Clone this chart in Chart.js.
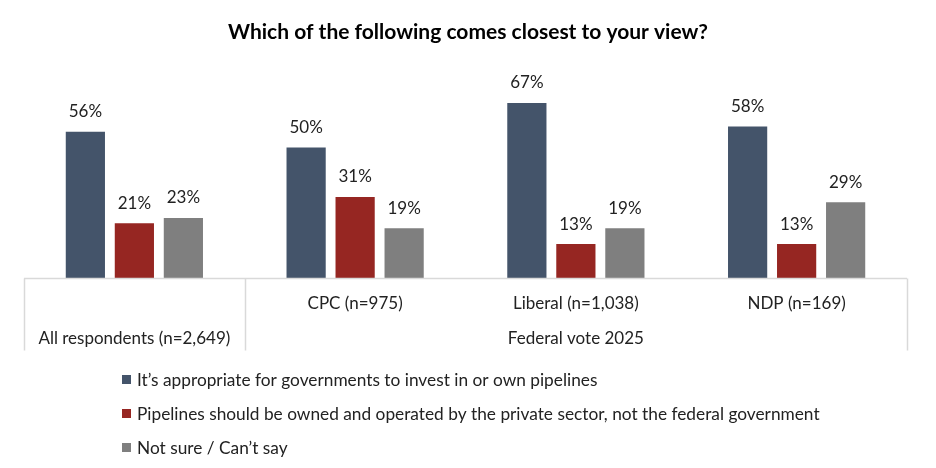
<!DOCTYPE html>
<html lang="en">
<head>
    <meta charset="UTF-8">
    <title>Pipelines view</title>
    <script src="https://cdn.jsdelivr.net/npm/chart.js"></script>
    <style>
        html, body { margin: 0; padding: 0; background: #fff; }
        #wrap { position: relative; width: 936px; height: 468px; }
    </style>
</head>
<body>
    <div id="wrap"><canvas id="pipeChart"></canvas></div>

    <script>
        const title = 'Which of the following comes closest to your view?';
        const categories = ['All respondents (n=2,649)', 'CPC (n=975)', 'Liberal (n=1,038)', 'NDP (n=169)'];
        const groupLabel = 'Federal vote 2025';
        const seriesNames = [
            'It\u2019s appropriate for governments to invest in or own pipelines',
            'Pipelines should be owned and operated by the private sector, not the federal government',
            'Not sure / Can\u2019t say'
        ];
        const governmentOk = [56, 50, 67, 58];
        const privateSector = [21, 31, 13, 13];
        const notSure = [23, 19, 19, 29];
        const colors = ['#44546A', '#962622', '#7F7F7F'];

        const FONT = 'Lato, "Open Sans", sans-serif';
        const lineColor = '#D9D9D9';

        // percentages above bars, axis boxes, title and legend
        const decorations = {
            id: 'decorations',
            afterDatasetsDraw(chart) {
                const { ctx, chartArea, scales } = chart;
                ctx.save();

                // value labels
                ctx.font = '17px ' + FONT;
                ctx.fillStyle = '#222';
                ctx.textAlign = 'center';
                ctx.textBaseline = 'middle';
                chart.data.datasets.forEach((ds, i) => {
                    chart.getDatasetMeta(i).data.forEach((bar, j) => {
                        ctx.fillText(ds.data[j] + '%', bar.x, bar.y - 20);
                    });
                });

                // axis line and separators
                const x = scales.x;
                const base = chartArea.bottom + 0.5;
                const left = chartArea.left;
                const right = chartArea.right;
                const mid01 = (x.getPixelForTick(0) + x.getPixelForTick(1)) / 2;
                ctx.strokeStyle = lineColor;
                ctx.lineWidth = 1.5;
                ctx.beginPath();
                ctx.moveTo(left, base); ctx.lineTo(right, base);
                [left, mid01, right].forEach(px => {
                    ctx.moveTo(Math.round(px) + 0.5, base);
                    ctx.lineTo(Math.round(px) + 0.5, base + 72);
                });
                ctx.stroke();

                // category labels
                ctx.fillStyle = '#222';
                ctx.font = '17px ' + FONT;
                categories.forEach((c, j) => {
                    const y = j === 0 ? base + 60 : base + 25;
                    ctx.fillText(c, x.getPixelForTick(j), y);
                });
                ctx.fillText(groupLabel, (x.getPixelForTick(1) + x.getPixelForTick(3)) / 2, base + 60);

                // title
                ctx.font = 'bold 21px ' + FONT;
                ctx.fillStyle = '#000';
                ctx.fillText(title, chart.width / 2, 32);

                // legend
                ctx.font = '17.3px ' + FONT;
                ctx.textAlign = 'left';
                chart.data.datasets.forEach((ds, i) => {
                    const y = 379 + i * 34;
                    ctx.fillStyle = ds.backgroundColor;
                    ctx.fillRect(122, y - 4, 9, 9);
                    ctx.fillStyle = '#222';
                    ctx.fillText(ds.label, 137, y + 1);
                });

                ctx.restore();
            }
        };

        const ctx = document.getElementById('pipeChart').getContext('2d');
        new Chart(ctx, {
            type: 'bar',
            data: {
                labels: categories,
                datasets: [
                    { label: seriesNames[0], data: governmentOk, backgroundColor: colors[0] },
                    { label: seriesNames[1], data: privateSector, backgroundColor: colors[1] },
                    { label: seriesNames[2], data: notSure, backgroundColor: colors[2] }
                ]
            },
            options: {
                responsive: true,
                maintainAspectRatio: false,
                animation: false,
                layout: { padding: { top: 69, bottom: 190, left: 24, right: 29 } },
                datasets: {
                    bar: { categoryPercentage: 0.666, barPercentage: 0.8 }
                },
                scales: {
                    x: { display: false },
                    y: { display: false, min: 0, max: 80 }
                },
                plugins: {
                    legend: { display: false },
                    tooltip: { enabled: false }
                }
            },
            plugins: [decorations]
        });
    </script>
</body>
</html>
